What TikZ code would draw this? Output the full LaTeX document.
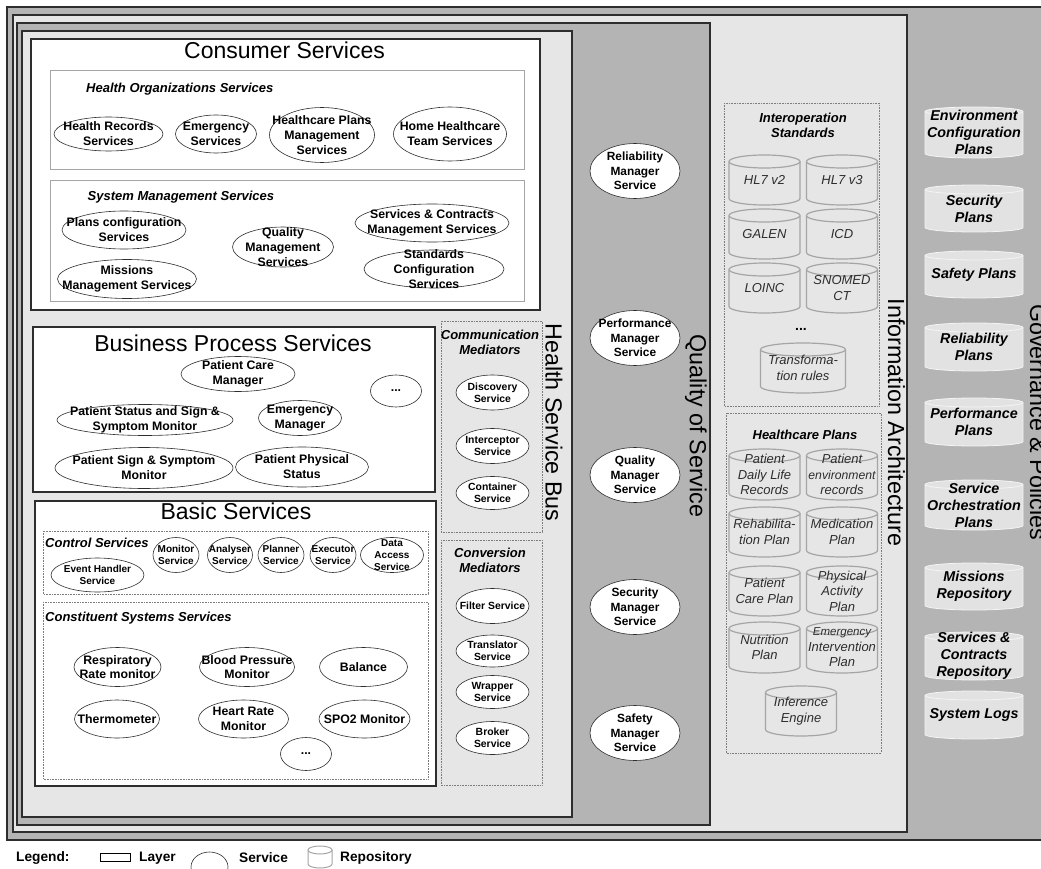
\documentclass[tikz,border=0pt]{standalone}
\usepackage{fontspec}
\setmainfont{Liberation Sans}
\usepackage{tikz}
\usetikzlibrary{shapes.geometric}
\definecolor{framedark}{RGB}{45, 45, 45}
\definecolor{layergray}{RGB}{180, 180, 180}
\definecolor{layerlight}{RGB}{230, 230, 230}
\definecolor{boxgray}{RGB}{165, 165, 165}
\definecolor{dotgray}{RGB}{125, 125, 125}
\definecolor{repoline}{RGB}{165, 165, 165}
\definecolor{repotext}{RGB}{45, 45, 45}
\definecolor{planfill}{RGB}{226, 226, 226}
\definecolor{planline}{RGB}{244, 244, 244}
\newcommand{\fsz}[2]{\fontsize{#1}{#2}\selectfont}
\newcommand{\lid}{6.5}
% service: empty ellipse, label laid on top (labels may run over the rim)
\newcommand{\service}[6][]{%
  \node[servicebox, minimum width=#4pt, minimum height=#5pt] (#2) at (#3) {};
  \node[servicetext, #1] (#2-t) at (#2) {#6};}
% repository drum: cx, top, width, height, text
\newcommand{\repo}[7][repo]{%
  \filldraw[#1] (#3-#5/2,#4+\lid) -- (#3-#5/2,#4+#6-\lid)
    arc[start angle=180, end angle=360, x radius=#5pt/2, y radius=\lid pt]
    -- (#3+#5/2,#4+\lid)
    arc[start angle=0, end angle=180, x radius=#5pt/2, y radius=\lid pt] -- cycle;
  \draw[#1] (#3-#5/2,#4+\lid)
    arc[start angle=180, end angle=360, x radius=#5pt/2, y radius=\lid pt];
  \node[#1 text] (#2) at (#3,#4+#6/2) {#7};}

\begin{document}
\begin{tikzpicture}[x=1pt, y=-1pt,
  layerframe/.style={draw=framedark, line width=1.4pt},
  layertitle/.style={font=\fsz{23}{27}, inner sep=0pt},
  sidetitle/.style={font=\fsz{23.3}{27}, rotate=-90, inner sep=0pt},
  grouplabel/.style={font=\fsz{13}{15}\bfseries\itshape, align=center, inner sep=0pt},
  subbox/.style={draw=boxgray, line width=0.9pt, fill=white},
  dotbox/.style={draw=dotgray, densely dotted, line width=0.6pt},
  servicebox/.style={ellipse, draw=framedark, fill=white, line width=0.6pt, inner sep=0pt},
  servicetext/.style={font=\fsz{12.3}{14.8}\bfseries, align=center, inner sep=0pt},
  ctl/.style={font=\fsz{10}{11.7}\bfseries},
  med/.style={font=\fsz{10.4}{12}\bfseries},
  qos/.style={font=\fsz{11.9}{14.5}\bfseries},
  repo/.style={draw=repoline, fill=layerlight, line width=1.2pt},
  repo text/.style={font=\fsz{13}{15.5}\itshape, text=repotext, align=center, inner sep=0pt},
  plan/.style={draw=planline, fill=planfill, line width=0.8pt},
  plan text/.style={font=\fsz{14.3}{17}\bfseries\itshape, align=center, inner sep=0pt},
  legendrepo/.style={draw=repoline, fill=white, line width=1pt},
  legendrepo text/.style={inner sep=0pt},
  legendtext/.style={font=\fsz{13.7}{16}\bfseries, inner sep=0pt}]

  \useasboundingbox (0,0) rectangle (1041,869);

  % ---------- nested layers ----------
  \draw[layerframe, fill=layergray] (7,7) rectangle (1070,840);
  \draw[layerframe, fill=layerlight] (13,15) rectangle (907,832);
  \draw[layerframe, fill=layergray] (17,23) rectangle (710,825);
  \draw[layerframe, fill=layerlight] (22,31) rectangle (572,817);

  \node[sidetitle] (govt) at (1038.5,422) {Governance \& Policies};
  \node[sidetitle] (iat) at (896.5,422.5) {Information Architecture};
  \node[sidetitle] (qost) at (696,426) {Quality of Service};
  \node[sidetitle] (hsbt) at (554,422.5) {Health Service Bus};

  % ---------- Consumer Services ----------
  \draw[layerframe, fill=white] (31,39) rectangle (540,310);
  \node[layertitle] (cst) at (284.5,50) {Consumer Services};
  \draw[subbox] (50,70) rectangle (524,169);
  \node[grouplabel, anchor=west] (hos) at (86,89) {Health Organizations Services};
  \service{hrs}{108.5,134}{109}{34}{Health Records\\Services}
  \service{ems}{216,134}{81}{38}{Emergency\\Services}
  \service{hpm}{322,135}{105}{55}{Healthcare Plans\\Management\\Services}
  \service{hht}{450,134}{113}{54}{Home Healthcare\\Team Services}

  \draw[subbox] (50,180) rectangle (524,301);
  \node[grouplabel, anchor=west] (sms) at (87.5,197) {System Management Services};
  \service{pcs}{124,230}{124}{38}{Plans configuration\\Services}
  \service{mms}{127,279}{139}{39}{Missions\\Management Services}
  \service{qms}{283,247}{101}{40}{Quality\\Management\\Services}
  \service{scm}{432,223}{154}{38}{Services \& Contracts\\Management Services}
  \service{stc}{434,269}{140}{38}{Standards\\Configuration\\Services}

  % ---------- Business Process Services ----------
  \draw[layerframe, fill=white] (33,327) rectangle (435,492);
  \node[layertitle] (bpt) at (233,343) {Business Process Services};
  \service{pcm}{238,374}{114}{35}{Patient Care\\Manager}
  \service{bpmore}{396,391}{51}{32}{...}
  \service{pss}{145,420}{176}{31}{Patient Status and Sign \&\\Symptom Monitor}
  \service{emm}{300,418}{83}{35}{Emergency\\Manager}
  \service{psm}{144,468}{178}{41}{Patient Sign \& Symptom\\Monitor}
  \service{pps}{302,467}{133}{40}{Patient Physical\\Status}

  % ---------- Basic Services ----------
  \draw[layerframe, fill=white] (35,501) rectangle (436,786);
  \node[layertitle] (bst) at (236,511) {Basic Services};
  \draw[dotbox] (43,531) rectangle (428,594);
  \node[grouplabel, anchor=west] (ctls) at (45,543) {Control Services};
  \service[ctl]{ehs}{97.5,575}{93}{34}{Event Handler\\Service}
  \service[ctl]{mon}{176,555}{46}{35}{Monitor\\Service}
  \service[ctl]{ana}{230,555}{45}{35}{Analyser\\Service}
  \service[ctl]{pla}{281,555}{46}{35}{Planner\\Service}
  \service[ctl]{exe}{333,555}{46}{35}{Executor\\Service}
  \service[ctl]{das}{392,555}{63}{35}{Data\\Access\\Service}

  \draw[dotbox] (43,602) rectangle (428,779);
  \node[grouplabel, anchor=west] (css) at (45,618) {Constituent Systems Services};
  \service{rrm}{117.5,667}{87}{39}{Respiratory\\Rate monitor}
  \service{bpm}{247,667}{95}{39}{Blood Pressure\\Monitor}
  \service{bal}{363.5,667}{88}{39}{Balance}
  \service{thm}{117,719}{85}{38}{Thermometer}
  \service{hrm}{243.5,719}{90}{38}{Heart Rate\\Monitor}
  \service{spo}{364.5,719}{91}{38}{SPO2 Monitor}
  \service{csmore}{306,754}{51}{33}{...}

  % ---------- mediators ----------
  \draw[dotbox] (441,321) rectangle (542,532);
  \node[grouplabel] (cmt) at (490,342.5) {Communication\\Mediators};
  \service[med]{dis}{492.5,392.5}{73}{35}{Discovery\\Service}
  \service[med]{icp}{492.5,446}{73}{35}{Interceptor\\Service}
  \service[med]{cnt}{492.5,493}{73}{33}{Container\\Service}

  \draw[dotbox] (441,540) rectangle (542,785);
  \node[grouplabel] (cvt) at (490,560.5) {Conversion\\Mediators};
  \service[med]{fil}{492.5,606}{73}{35}{Filter Service}
  \service[med]{tra}{492.5,651}{73}{32}{Translator\\Service}
  \service[med]{wra}{492.5,692}{73}{33}{Wrapper\\Service}
  \service[med]{bro}{492.5,738}{73}{33}{Broker\\Service}

  % ---------- quality of service managers ----------
  \service[qos]{rms}{635,171}{90}{55}{Reliability\\Manager\\Service}
  \service[qos]{pms}{635,338}{90}{55}{Performance\\Manager\\Service}
  \service[qos]{qm}{635,475}{90}{55}{Quality\\Manager\\Service}
  \service[qos]{sems}{635,607}{90}{55}{Security\\Manager\\Service}
  \service[qos]{sams}{635,733}{90}{55}{Safety\\Manager\\Service}

  % ---------- information architecture ----------
  \draw[dotbox] (724,103) rectangle (879,406);
  \node[grouplabel] (ist) at (803,125.5) {Interoperation\\Standards};
  \repo{hlb}{764.5}{155}{71}{50}{HL7 v2}
  \repo{hlc}{842}{155}{71}{50}{HL7 v3}
  \repo{galen}{764.5}{209}{71}{50}{GALEN}
  \repo{icd}{842}{209}{71}{50}{ICD}
  \repo{loinc}{764.5}{263}{71}{50}{LOINC}
  \repo{snomed}{842}{263}{71}{50}{SNOMED\\CT}
  \node[font=\fsz{14}{16}\bfseries, inner sep=0pt] (stdmore) at (801,329) {...};
  \repo{trans}{803}{343}{85}{50}{Transforma-\\tion rules}

  \draw[dotbox] (726,413) rectangle (881,753);
  \node[grouplabel] (hpt) at (805,435) {Healthcare Plans};
  \repo{pdl}{764.5}{449}{71}{51}{Patient\\Daily Life\\Records}
  \repo{per}{842}{449}{71}{51}{Patient\\\fsz{12.2}{15.5}environment\\records}
  \repo{reh}{764.5}{507}{71}{50}{Rehabilita-\\tion Plan}
  \repo{medi}{842}{507}{71}{50}{Medication\\Plan}
  \repo{pcp}{764.5}{566}{71}{50}{Patient\\Care Plan}
  \repo{pap}{842}{566}{71}{50}{Physical\\Activity\\Plan}
  \repo{nut}{764.5}{622}{71}{51}{Nutrition\\Plan}
  \repo{eip}{842}{622}{71}{51}{\fsz{11.5}{15}Emergency\\Intervention\\Plan}
  \repo{inf}{801}{686}{71}{50}{Inference\\Engine}

  % ---------- governance plans ----------
  \begin{scope}
    \renewcommand{\lid}{4.5}
    \repo[plan]{ecp}{974}{107}{98}{51}{Environment\\Configuration\\Plans}
    \repo[plan]{secp}{974}{185}{98}{47}{Security\\Plans}
    \repo[plan]{safp}{974}{251}{98}{47}{Safety Plans}
    \repo[plan]{relp}{974}{323}{98}{48}{Reliability\\Plans}
    \repo[plan]{perfp}{974}{398}{98}{48}{Performance\\Plans}
    \repo[plan]{sorp}{974}{480}{98}{50}{Service\\Orchestration\\Plans}
    \repo[plan]{misr}{974}{563}{98}{47}{Missions\\Repository}
    \repo[plan]{scr}{974}{632}{98}{48}{Services \&\\Contracts\\Repository}
    \repo[plan]{syslog}{974}{691}{98}{48}{System Logs}
  \end{scope}

  % ---------- legend ----------
  \node[legendtext, anchor=west] (lgd) at (16,858) {Legend:};
  \node[draw=black, fill=white, line width=1pt, minimum width=30pt, minimum height=8pt, inner sep=0pt] (lglayer) at (115,857) {};
  \node[legendtext, anchor=west] (lglayert) at (139,858) {Layer};
  \node[servicebox, minimum width=37pt, minimum height=30pt] (lgsvc) at (209.5,867) {};
  \node[legendtext, anchor=west] (lgsvct) at (239,858) {Service};
  \begin{scope}
    \renewcommand{\lid}{4}
    \repo[legendrepo]{lgrepo}{320}{846}{24}{22}{}
  \end{scope}
  \node[legendtext, anchor=west] (lgrepot) at (340,858) {Repository};

\end{tikzpicture}
\end{document}
